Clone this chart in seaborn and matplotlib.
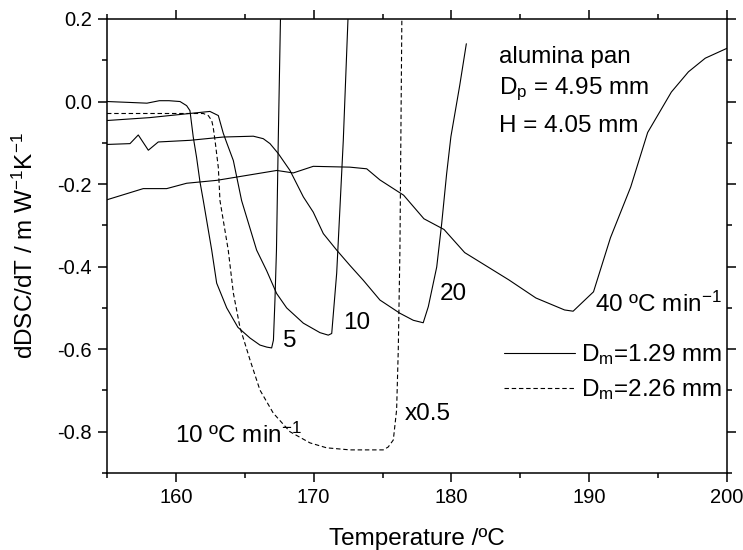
import numpy as np
import matplotlib
matplotlib.use('Agg')
import matplotlib.pyplot as plt
import seaborn as sns
from matplotlib.ticker import FormatStrFormatter

# curves, Dm = 1.29 mm, heating rate in C/min
t_5 = [155.0, 156.5, 157.9, 158.8, 159.5, 160.3, 160.78, 161.02, 161.26, 161.5, 161.75,
       161.99, 162.6, 162.96, 163.69, 164.5, 165.38, 166.1, 166.6, 166.95, 167.08, 167.19,
       167.3, 167.43, 167.59]
dsc_5 = [0.0, -0.002, -0.004, 0.002, 0.002, 0.0, -0.01, -0.022, -0.086, -0.135, -0.195,
         -0.24, -0.36, -0.44, -0.50, -0.547, -0.573, -0.59, -0.595, -0.597, -0.578, -0.481,
         -0.36, -0.094, 0.2]

t_10 = [155.0, 158.1, 161.0, 162.47, 163.08, 163.44, 163.69, 164.17, 164.77, 165.86, 166.59,
        167.31, 168.04, 169.25, 170.46, 171.06, 171.31, 171.67, 171.91, 172.15, 172.49]
dsc_10 = [-0.046, -0.039, -0.029, -0.024, -0.034, -0.077, -0.10, -0.143, -0.24, -0.36, -0.41,
          -0.465, -0.50, -0.537, -0.56, -0.566, -0.562, -0.416, -0.256, -0.094, 0.2]

t_20 = [155.0, 156.67, 157.27, 158.0, 158.72, 161.02, 163.44, 165.62, 166.34, 166.83, 167.43,
        168.28, 169.25, 169.97, 170.7, 171.67, 172.63, 173.6, 174.81, 176.26, 177.23, 177.95,
        178.32, 178.93, 179.29, 179.65, 179.96, 180.6, 181.08]
dsc_20 = [-0.104, -0.102, -0.081, -0.118, -0.098, -0.094, -0.086, -0.084, -0.09, -0.102, -0.126,
          -0.167, -0.231, -0.268, -0.32, -0.36, -0.397, -0.433, -0.481, -0.513, -0.53, -0.536,
          -0.497, -0.401, -0.296, -0.175, -0.085, 0.039, 0.14]

t_40 = [155.0, 157.63, 159.33, 160.78, 162.96, 165.14, 167.32, 168.52, 169.97, 172.63, 173.85,
        174.81, 176.53, 178.0, 179.46, 180.96, 184.16, 186.13, 188.21, 188.83, 190.31, 191.54,
        193.01, 194.24, 195.96, 197.2, 198.42, 200.0]
dsc_40 = [-0.238, -0.211, -0.211, -0.198, -0.191, -0.179, -0.167, -0.173, -0.157, -0.159, -0.163,
          -0.19, -0.227, -0.284, -0.31, -0.366, -0.432, -0.476, -0.505, -0.508, -0.461, -0.33,
          -0.207, -0.075, 0.023, 0.072, 0.105, 0.129]

# Dm = 2.26 mm at 10 C/min, scaled x0.5
t_big = [155.0, 161.99, 162.35, 162.6, 162.71, 162.84, 163.08, 163.2, 163.8, 164.17, 164.65,
         165.38, 166.1, 167.07, 168.28, 169.73, 170.94, 172.63, 175.05, 175.41, 175.78, 176.02,
         176.14, 176.26, 176.4]
dsc_big = [-0.029, -0.029, -0.034, -0.046, -0.063, -0.094, -0.16, -0.24, -0.36, -0.464, -0.547,
           -0.626, -0.699, -0.755, -0.80, -0.827, -0.839, -0.844, -0.844, -0.837, -0.82, -0.747,
           -0.602, -0.36, 0.2]

sns.set_theme(style='ticks')
plt.rcParams['font.family'] = ['Liberation Sans', 'DejaVu Sans']
plt.rcParams['mathtext.fontset'] = 'custom'
plt.rcParams['mathtext.rm'] = 'Liberation Sans'
plt.rcParams['mathtext.it'] = 'Liberation Sans:italic'
plt.rcParams['axes.unicode_minus'] = False
plt.rcParams['text.color'] = 'black'
plt.rcParams['axes.labelcolor'] = 'black'

fig, ax = plt.subplots(figsize=(7.43, 5.5), dpi=100)
fig.subplots_adjust(left=0.144, right=0.9785, top=0.9655, bottom=0.14)

lw = 0.8
sns.lineplot(x=t_5, y=dsc_5, ax=ax, color='black', lw=lw, sort=False, estimator=None,
             label=r'D$_\mathrm{m}$=1.29 mm')
sns.lineplot(x=t_10, y=dsc_10, ax=ax, color='black', lw=lw, sort=False, estimator=None)
sns.lineplot(x=t_20, y=dsc_20, ax=ax, color='black', lw=lw, sort=False, estimator=None)
sns.lineplot(x=t_40, y=dsc_40, ax=ax, color='black', lw=lw, sort=False, estimator=None)
sns.lineplot(x=t_big, y=dsc_big, ax=ax, color='black', lw=lw, sort=False, estimator=None,
             linestyle=(0, (4, 2.5)), label=r'D$_\mathrm{m}$=2.26 mm')

ax.set_xlim(155, 200)
ax.set_ylim(-0.9, 0.2)
ax.set_xticks([160, 170, 180, 190, 200])
ax.set_xticks([155, 165, 175, 185, 195], minor=True)
ax.set_yticks([-0.8, -0.6, -0.4, -0.2, 0.0, 0.2])
ax.set_yticks([-0.9, -0.7, -0.5, -0.3, -0.1, 0.1], minor=True)
ax.yaxis.set_major_formatter(FormatStrFormatter('%.1f'))
ax.tick_params(which='both', direction='out', top=True, right=True, width=1.1,
               labelsize=14.5, colors='black')
ax.tick_params(which='major', length=6.5, pad=4.5)
ax.tick_params(which='minor', length=3.6)
for s in ax.spines.values():
    s.set_linewidth(1.1)
    s.set_color('black')

ax.set_xlabel('Temperature /ºC', fontsize=17.5, labelpad=15)
ax.set_ylabel(r'dDSC/dT / m W$^{-1}$K$^{-1}$', fontsize=17.5, labelpad=14)

fs = 17.5
ax.text(183.42, 0.093, 'alumina pan', fontsize=fs, va='baseline')
ax.text(183.42, 0.019, r'D$_\mathrm{p}$ = 4.95 mm', fontsize=fs, va='baseline')
ax.text(183.42, -0.075, 'H = 4.05 mm', fontsize=fs, va='baseline')
ax.text(167.77, -0.595, '5', fontsize=fs, va='baseline')
ax.text(172.13, -0.551, '10', fontsize=fs, va='baseline')
ax.text(179.17, -0.481, '20', fontsize=fs, va='baseline')
ax.text(190.41, -0.51, r'40 ºC min$^{-1}$', fontsize=fs, va='baseline')
ax.text(176.63, -0.771, 'x0.5', fontsize=fs, va='baseline')
ax.text(159.93, -0.827, r'10 ºC min$^{-1}$', fontsize=fs, va='baseline')

ax.legend(loc='upper right', bbox_to_anchor=(0.992, 0.288), frameon=False, fontsize=fs,
          handlelength=2.9, handletextpad=0.25, labelspacing=0.42, borderpad=0,
          borderaxespad=0)

fig.savefig('out.png', dpi=100)
